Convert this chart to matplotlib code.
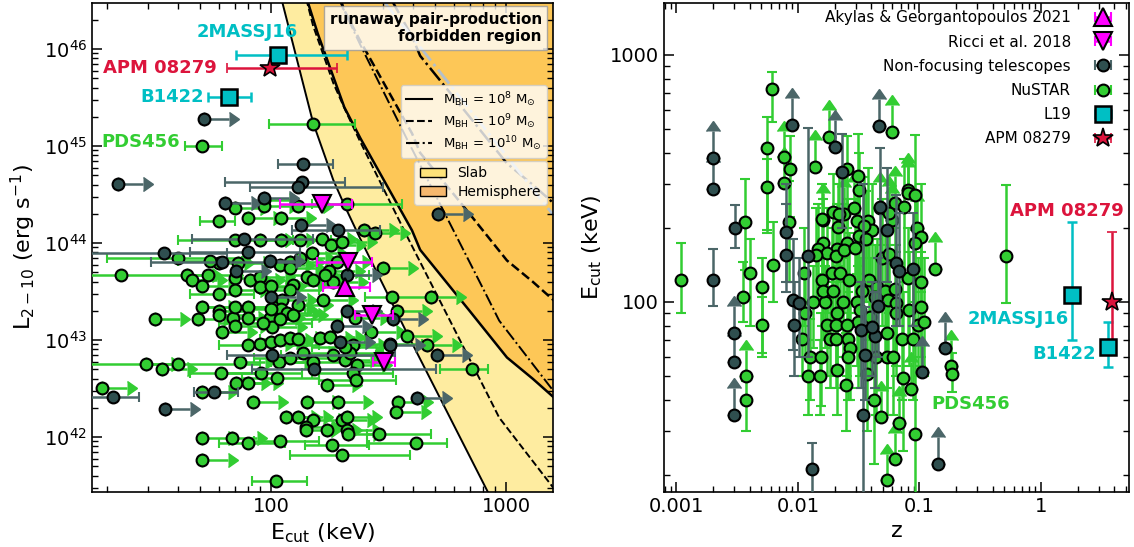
import numpy as np
import matplotlib.pyplot as plt
from matplotlib.lines import Line2D
from matplotlib.patches import Patch
from matplotlib.ticker import FixedLocator, FuncFormatter, NullFormatter

# ---------------- left panel: L(2-10) vs Ecut ----------------
# NuSTAR, two-sided errors on Ecut (keV)
nu_E = [51, 151, 60, 70, 40, 23, 40, 716, 288, 414, 200, 105, 327, 211, 80, 60, 70, 92, 130, 109,
        120, 151, 184, 61, 91, 106, 80, 109, 223, 230, 182, 321, 133, 55, 120, 170, 207, 100]
nu_L = [1.0e45, 1.7e45, 1.7e44, 1.07e44, 7.0e43, 4.7e43, 5.7e42, 5.0e42, 1.07e42, 8.7e41,
        6.5e41, 3.5e41, 2.8e43, 2.5e44, 8.8e42, 3.0e43, 2.2e43, 1.5e43, 1.02e43, 1.65e43,
        6.6e42, 5.9e42, 7.0e42, 4.6e42, 4.6e42, 4.1e42, 8.7e41, 9.1e41, 4.6e42, 3.9e42,
        8.3e41, 9.2e42, 1.07e44, 6.6e43, 3.3e43, 4.7e43, 8.4e42, 2.1e43]
nu_Elo = [43, 98, 50, 40, 20, 15, 15, 524, 256, 256, 120, 83, 250, 150, 60, 45, 52, 60, 90, 80,
          85, 100, 110, 45, 62, 75, 60, 85, 150, 160, 140, 240, 110, 40, 90, 120, 150, 70]
nu_Ehi = [62, 228, 70, 124, 81, 55, 90, 838, 480, 561, 390, 142, 470, 361, 160, 85, 110, 150, 250, 200,
          180, 300, 280, 90, 135, 160, 115, 160, 330, 340, 260, 440, 180, 75, 160, 260, 300, 140]

# NuSTAR lower limits on Ecut
nu_limE = [70, 93, 93, 130, 80, 110, 90, 110, 165, 180, 200, 60, 72, 109, 120, 133, 149, 191,
           44, 46, 51, 54, 70, 81, 90, 120, 142, 151, 177, 184, 70, 90, 100, 111, 124, 51, 60,
           80, 110, 130, 166, 32, 49, 60, 69, 80, 99, 117, 124, 228, 70, 101, 62, 90, 100, 109,
           120, 162, 178, 223, 74, 108, 137, 207, 217, 29.4, 34.4, 71, 80, 173, 232, 19, 51, 84,
           142, 193, 347, 340, 116, 130, 151, 141, 141, 173, 200, 211, 211, 213, 51, 68, 51,
           379, 461, 267, 480, 249, 277, 300, 344]
nu_limL = [2.3e44, 2.8e44, 2.4e44, 2.4e44, 1.8e44, 1.8e44, 1.07e44, 1.07e44, 1.1e44, 9.6e43, 1.02e44,
           6.2e43, 6.2e43, 5.9e43, 6.3e43, 7.0e43, 7.9e43, 6.3e43, 4.7e43, 4.2e43, 3.6e43, 4.7e43,
           4.4e43, 4.2e43, 4.5e43, 5.5e43, 4.5e43, 4.2e43, 5.2e43, 4.0e43, 3.3e43, 3.5e43, 3.6e43,
           2.6e43, 3.7e43, 2.2e43, 2.0e43, 2.2e43, 2.1e43, 2.3e43, 2.6e43, 1.65e43, 1.65e43, 1.8e43,
           1.7e43, 1.7e43, 1.7e43, 1.9e43, 1.8e43, 1.7e43, 1.4e43, 1.35e43, 1.2e43, 9.2e42, 9.5e42,
           1.0e43, 1.05e43, 1.05e43, 1.07e43, 8.8e42, 5.9e42, 5.9e42, 7.4e42, 6.2e42, 7.4e42,
           5.7e42, 5.0e42, 3.6e42, 3.6e42, 3.4e42, 5.5e42, 3.2e42, 2.9e42, 2.3e42, 2.3e42, 2.3e42,
           2.3e42, 1.8e42, 1.6e42, 1.6e42, 1.5e42, 1.26e42, 1.17e42, 1.17e42, 1.5e42, 1.6e42,
           1.17e42, 1.07e42, 9.8e41, 9.8e41, 5.8e41, 1.1e43, 8.8e42, 1.2e43, 2.8e43, 1.35e44,
           1.26e44, 5.5e43, 2.0e43]

# non-focusing telescopes
nf_E = [137, 135, 130, 193, 77, 35, 80, 62, 101, 152, 21.3, 57]
nf_L = [6.6e44, 4.3e44, 3.8e44, 1.35e44, 1.1e44, 7.9e43, 8.1e43, 6.3e43, 7.0e42, 5.0e42, 2.6e42, 2.9e42]
nf_Elo = [107, 64, 81, 123, 46, 12, 45, 31, 65, 83, 16, 47]
nf_Ehi = [184, 207, 300, 291, 151, 65, 133, 133, 337, 504, 27.4, 72]
nf_limE = [52, 22.3, 64, 93, 134, 99, 71, 100, 211, 211, 191, 197, 321, 508, 418, 35.4, 331, 514]
nf_limL = [1.9e45, 4.1e44, 2.6e44, 2.9e44, 1.55e44, 6.6e43, 5.2e43, 2.8e43, 4.7e43, 2.0e43,
           1.4e43, 9.5e42, 8.8e42, 7.0e42, 2.5e42, 1.95e42, 1.65e43, 2.0e44]

# Akylas & Georgantopoulos 2021 / Ricci et al. 2018
aky_E, aky_L, aky_lo, aky_hi = [207], [3.5e43], [166], [264]
ric_E = [165, 213, 269, 303]
ric_L = [2.5e44, 6.3e43, 1.8e43, 5.9e42]
ric_lo = [109, 157, 228, 272]
ric_hi = [221, 269, 330, 337]

# L19 quasars and APM 08279
l19_names = ['2MASSJ16', 'B1422']
l19_E, l19_L, l19_lo, l19_hi = [107, 66], [8.7e45, 3.2e45], [71, 54], [210, 82]
l19_z, l19_zlo, l19_zhi = [1.8, 3.54], [70, 54.6], [211, 83]
l19_Ez = [107, 65.8]
apm_E, apm_L, apm_lo, apm_hi = [99], [6.3e45], [65], [191]
apm_z, apm_Ez, apm_zlo, apm_zhi = [3.82], [100], [64], [192]

# pair-production boundaries for M_BH = 1e8 (log L)
slab_E = [108, 112, 151, 184, 207, 239, 379, 830, 935, 1585, 2500]
slab_logL = [46.6, 46.47, 45.24, 44.65, 44.37, 44.05, 43.07, 41.45, 41.2, 40.48, 39.9]
hemi_E = [138, 144, 158, 205, 240, 398, 431, 700, 1009, 1300, 1700]
hemi_logL = [46.6, 46.47, 46.16, 45.40, 45.08, 44.13, 43.93, 43.30, 42.82, 42.6, 42.35]
bh_logM = [8, 9, 10]
bh_ls = ['-', '--', '-.']
grey_E, grey_L = [300, 1600], [10 ** 46.5, 10 ** 44.28]

# ---------------- right panel: Ecut vs z ----------------
nuz_z = [0.0011, 0.0061, 0.0056, 0.0037, 0.00354, 0.00507, 0.00507, 0.00375, 0.516, 0.184,
         0.0927, 0.0056, 0.0086, 0.0084, 0.00624, 0.00405, 0.0252, 0.031, 0.0318, 0.0913,
         0.074, 0.0194, 0.0157, 0.0217, 0.0213, 0.0305, 0.0375, 0.0405, 0.0347, 0.0316,
         0.0252, 0.0209, 0.016, 0.0146, 0.0173, 0.0205, 0.0141, 0.0112, 0.0238, 0.0294,
         0.036, 0.0489, 0.0566, 0.102, 0.0926, 0.0798, 0.1038, 0.0157, 0.019, 0.0221,
         0.0262, 0.0335, 0.0382, 0.0444, 0.0517, 0.0624, 0.0166, 0.0133, 0.016, 0.0194,
         0.0234, 0.0305, 0.0114, 0.0209, 0.0322, 0.031, 0.0389, 0.0173, 0.0205, 0.0252,
         0.0183, 0.0205, 0.0257, 0.0267, 0.0108, 0.0125, 0.0155, 0.0121, 0.0153, 0.0209,
         0.0247, 0.0257, 0.0368, 0.0436, 0.054, 0.0601, 0.054, 0.0428, 0.0547, 0.0647,
         0.0647, 0.0712, 0.0877, 0.0828, 0.0964, 0.11, 0.102, 0.042, 0.0726]
nuz_E = [123, 728, 420, 211, 105, 115, 81, 40, 153, 51,
         29.3, 292, 345, 211, 141, 131, 345, 324, 284, 271,
         243, 231, 217, 227, 201, 212, 212, 195, 203, 185,
         173, 164, 173, 164, 158, 153, 155, 131, 163, 165,
         180, 150, 157, 183, 173, 125, 120, 123, 131, 131,
         123, 111, 123, 115, 111, 113, 100, 100, 111, 111,
         100, 100, 90, 90, 93, 83, 87, 81, 81, 81,
         71, 71, 71, 65, 71, 60, 60, 50, 50, 53,
         46, 60, 51, 60, 60, 60, 75, 105, 102, 99,
         90, 71, 71, 93, 81, 83, 95, 40, 49]
nuz_lo = [90, 535, 196, 135, 83, 60, 62, 30, 99, 43,
          12, 190, 220, 120, 100, 80, 200, 160, 170, 180,
          120, 150, 130, 140, 120, 130, 120, 110, 100, 90,
          100, 90, 110, 100, 90, 90, 100, 80, 90, 90,
          100, 80, 90, 110, 100, 70, 60, 80, 80, 80,
          70, 60, 70, 60, 60, 60, 65, 65, 70, 70,
          60, 55, 60, 55, 50, 45, 50, 50, 50, 50,
          45, 45, 45, 40, 50, 40, 38, 35, 35, 35,
          30, 40, 30, 35, 35, 35, 45, 60, 60, 55,
          50, 40, 40, 55, 50, 50, 55, 22, 25]
nuz_hi = [173, 853, 562, 315, 145, 150, 105, 48, 298, 62,
          195, 380, 470, 310, 210, 180, 470, 480, 400, 474,
          380, 330, 300, 330, 300, 320, 350, 300, 320, 290,
          260, 250, 260, 250, 240, 230, 240, 200, 250, 260,
          280, 260, 260, 300, 280, 200, 190, 180, 200, 200,
          190, 180, 190, 180, 190, 200, 140, 140, 160, 160,
          150, 160, 130, 140, 150, 140, 150, 120, 120, 125,
          110, 110, 110, 100, 100, 85, 90, 70, 70, 80,
          75, 90, 90, 100, 100, 100, 120, 170, 170, 170,
          160, 130, 130, 160, 150, 150, 160, 90, 110]
nuz_limz = [0.00767, 0.0589, 0.0138, 0.0179, 0.0537, 0.0624, 0.0479, 0.0673, 0.086, 0.183,
            0.135, 0.00375, 0.00767, 0.0624, 0.0798, 0.0589, 0.016, 0.024, 0.029, 0.047,
            0.0566, 0.0798, 0.095]
nuz_limE = [386, 488, 352, 466, 19.0, 23.1, 34.2, 32.4, 44.5, 55,
            136, 50, 303, 252, 284, 215, 215, 228, 240, 240,
            230, 275, 200]

nfz_z = [0.00201, 0.00305, 0.013, 0.0341, 0.0080, 0.0080, 0.0121, 0.0091, 0.023, 0.047,
         0.0537, 0.0647, 0.0673, 0.0877, 0.0328, 0.0359, 0.046, 0.0428, 0.0405, 0.0102, 0.0093]
nfz_E = [123, 199, 21.1, 35, 192, 155, 153, 102, 336, 243,
         195, 144, 134, 136, 77, 61, 96, 73, 79, 99, 81]
nfz_lo = [96, 166, 12, 10, 120, 110, 60, 64, 200, 100,
          120, 80, 80, 80, 45, 40, 60, 45, 50, 60, 50]
nfz_hi = [164, 247, 26.9, 300, 300, 250, 506, 180, 480, 420,
          350, 270, 230, 230, 120, 95, 150, 110, 120, 150, 120]
nfz_limz = [0.0089, 0.00201, 0.00201, 0.0461, 0.0201, 0.00299, 0.00299, 0.00299, 0.104, 0.163, 0.143]
nfz_limE = [521, 383, 287, 516, 424, 75, 57, 35, 52, 65, 22.1]

NU_C = 'limegreen'
NF_C = '#2f4f4f'
NF_EC = '#4b6668'
CY = '#00bfc4'
APM_C = 'crimson'


def with_err(ax, x, y, lo, hi, vertical, **kw):
    x = np.asarray(x, float)
    y = np.asarray(y, float)
    if vertical:
        err = [y - np.asarray(lo, float), np.asarray(hi, float) - y]
        return ax.errorbar(x, y, yerr=err, **kw)
    err = [x - np.asarray(lo, float), np.asarray(hi, float) - x]
    return ax.errorbar(x, y, xerr=err, **kw)


def with_lim(ax, x, y, vertical, mfc, ecolor, zorder):
    # arrow (lower limit) first, then the marker on top
    x = np.asarray(x, float)
    y = np.asarray(y, float)
    arr = dict(fmt='none', ecolor=ecolor, elinewidth=1.8, capsize=5, zorder=zorder - 0.1)
    if vertical:
        c = ax.errorbar(x, y, yerr=0.28 * y, lolims=True, **arr)
    else:
        c = ax.errorbar(x, y, xerr=0.28 * x, xlolims=True, **arr)
    for cl in c[1]:
        cl.set_markerfacecolor(ecolor)
        cl.set_markeredgecolor(ecolor)
    ax.plot(x, y, 'o', ms=8.5, mfc=mfc, mec='k', mew=1.5, zorder=zorder)


pt = dict(fmt='o', ms=8.5, mec='k', mew=1.5, elinewidth=1.8, capsize=3.5, capthick=1.8)
nu_style = dict(pt, mfc=NU_C, ecolor=NU_C, zorder=3)
nf_style = dict(pt, mfc=NF_C, ecolor=NF_EC, zorder=3.5)

fig = plt.figure(figsize=(11.34, 5.47), dpi=100)
ax1 = fig.add_axes([0.0811, 0.1005, 0.4066, 0.894])
ax2 = fig.add_axes([0.5855, 0.1005, 0.4101, 0.894])
for ax in (ax1, ax2):
    ax.set_xscale('log')
    ax.set_yscale('log')

# forbidden regions
slab_L = 10 ** np.array(slab_logL)
hemi_L = 10 ** np.array(hemi_logL)
ax1.fill(slab_E + [1e5, 1e5], list(slab_L) + [slab_L[-1], slab_L[0]], color='#feeca0', lw=0, zorder=0)
ax1.fill(hemi_E + [1e5, 1e5], list(hemi_L) + [hemi_L[-1], hemi_L[0]], color='#fdc757', lw=0, zorder=0.5)
for m, ls in zip(bh_logM, bh_ls):
    f = 10 ** (m - 8)
    ax1.plot(slab_E, slab_L * f, color='k', ls=ls, lw=1.4, zorder=1)
    ax1.plot(hemi_E, hemi_L * f, color='k', ls=ls, lw=1.8, zorder=1)
ax1.plot(grey_E, grey_L, color='#b3c0cc', ls='-.', lw=2, zorder=1)

# left points
h_nu = with_err(ax1, nu_E, nu_L, nu_Elo, nu_Ehi, False, **nu_style)
with_lim(ax1, nu_limE, nu_limL, False, NU_C, NU_C, 3)
h_nf = with_err(ax1, nf_E, nf_L, nf_Elo, nf_Ehi, False, **nf_style)
with_lim(ax1, nf_limE, nf_limL, False, NF_C, NF_EC, 3.5)
mag = dict(pt, ms=13, mfc='magenta', ecolor='magenta', zorder=4)
mag.pop('fmt')
h_aky = with_err(ax1, aky_E, aky_L, aky_lo, aky_hi, False, fmt='^', **mag)
h_ric = with_err(ax1, ric_E, ric_L, ric_lo, ric_hi, False, fmt='v', **mag)
sq = dict(fmt='s', ms=11, mfc=CY, mec='k', mew=1.8, ecolor=CY, elinewidth=1.8,
          capsize=3.5, capthick=1.8, zorder=5)
st = dict(fmt='*', ms=15, mfc=APM_C, mec='k', mew=1.2, ecolor=APM_C, elinewidth=1.8,
          capsize=3.5, capthick=1.8, zorder=5)
h_l19 = with_err(ax1, l19_E, l19_L, l19_lo, l19_hi, False, **sq)
h_apm = with_err(ax1, apm_E, apm_L, apm_lo, apm_hi, False, **st)

lab = dict(fontsize=13, fontweight='bold', va='center', zorder=6)
ax1.text(130, 1.5e46, '2MASSJ16', color=CY, ha='right', **lab)
ax1.text(59, 6.4e45, 'APM 08279', color=APM_C, ha='right', **lab)
ax1.text(52, 3.2e45, 'B1422', color=CY, ha='right', **lab)
ax1.text(41, 1.1e45, 'PDS456', color=NU_C, ha='right', **lab)

ax1.text(0.976, 0.982, 'runaway pair-production\nforbidden region', transform=ax1.transAxes,
         ha='right', va='top', fontsize=11, fontweight='bold', zorder=10,
         bbox=dict(boxstyle='square,pad=0.35', fc='white', ec='0.6', alpha=0.8))

mlabels = [r'M$_{\rm BH}$ = 10$^{%d}$ M$_{\odot}$' % m for m in bh_logM]
leg1 = ax1.legend([Line2D([], [], color='k', ls=s, lw=1.5) for s in bh_ls], mlabels,
                  loc='upper right', bbox_to_anchor=(0.992, 0.838), fontsize=9.5,
                  handlelength=2.0, labelspacing=0.25, borderaxespad=0.2)
leg1.set_zorder(10)
ax1.add_artist(leg1)
leg2 = ax1.legend([Patch(fc='#fde27a', ec='k'), Patch(fc='#f6b86e', ec='k')], ['Slab', 'Hemisphere'],
                  loc='upper right', bbox_to_anchor=(0.992, 0.683), fontsize=10,
                  handlelength=1.9, labelspacing=0.35, borderaxespad=0.2)
leg2.set_zorder(10)

ax1.set_xlim(17.3, 1585)
ax1.set_ylim(2.71e41, 2.98e46)
ax1.xaxis.set_major_locator(FixedLocator([100, 1000]))
ax1.xaxis.set_major_formatter(FuncFormatter(lambda v, p: '%d' % v))
ax1.xaxis.set_minor_formatter(NullFormatter())
ax1.set_xlabel(r'E$_{\rm cut}$ (keV)', fontsize=16)
ax1.set_ylabel(r'L$_{2-10}$ (erg s$^{-1}$)', fontsize=16)

# right points
with_err(ax2, nuz_z, nuz_E, nuz_lo, nuz_hi, True, **nu_style)
with_lim(ax2, nuz_limz, nuz_limE, True, NU_C, NU_C, 3)
with_err(ax2, nfz_z, nfz_E, nfz_lo, nfz_hi, True, **nf_style)
with_lim(ax2, nfz_limz, nfz_limE, True, NF_C, NF_EC, 3.5)
with_err(ax2, l19_z, l19_Ez, l19_zlo, l19_zhi, True, **sq)
with_err(ax2, apm_z, apm_Ez, apm_zlo, apm_zhi, True, **st)

ax2.text(1.70, 85, '2MASSJ16', color=CY, ha='right', **lab)
ax2.text(2.83, 61.6, 'B1422', color=CY, ha='right', **lab)
ax2.text(4.79, 233, 'APM 08279', color=APM_C, ha='right', **lab)
ax2.text(0.125, 38.7, 'PDS456', color=NU_C, ha='left', **lab)

ax2.legend([h_aky, h_ric, h_nf, h_nu, h_l19, h_apm],
           ['Akylas & Georgantopoulos 2021', 'Ricci et al. 2018', 'Non-focusing telescopes',
            'NuSTAR', 'L19', 'APM 08279'],
           loc='upper right', bbox_to_anchor=(1.0, 1.016), frameon=False, markerfirst=False,
           fontsize=11, handlelength=1.4, handletextpad=1.4, labelspacing=0.6, borderaxespad=0.6)

ax2.set_xlim(0.00079, 5.3)
ax2.set_ylim(17, 1622)
ax2.xaxis.set_major_locator(FixedLocator([0.001, 0.01, 0.1, 1]))
ax2.xaxis.set_major_formatter(FuncFormatter(lambda v, p: '%g' % v))
ax2.yaxis.set_major_locator(FixedLocator([100, 1000]))
ax2.yaxis.set_major_formatter(FuncFormatter(lambda v, p: '%d' % v))
for a in (ax2.xaxis, ax2.yaxis):
    a.set_minor_formatter(NullFormatter())
ax2.set_xlabel('z', fontsize=16)
ax2.set_ylabel(r'E$_{\rm cut}$ (keV)', fontsize=16)

for ax in (ax1, ax2):
    ax.tick_params(which='both', direction='in', top=True, right=True, labelsize=14)
    ax.tick_params(which='major', length=7, width=1.1)
    ax.tick_params(which='minor', length=4, width=1)
    for s in ax.spines.values():
        s.set_linewidth(1.2)

fig.savefig('out.png', dpi=100)
